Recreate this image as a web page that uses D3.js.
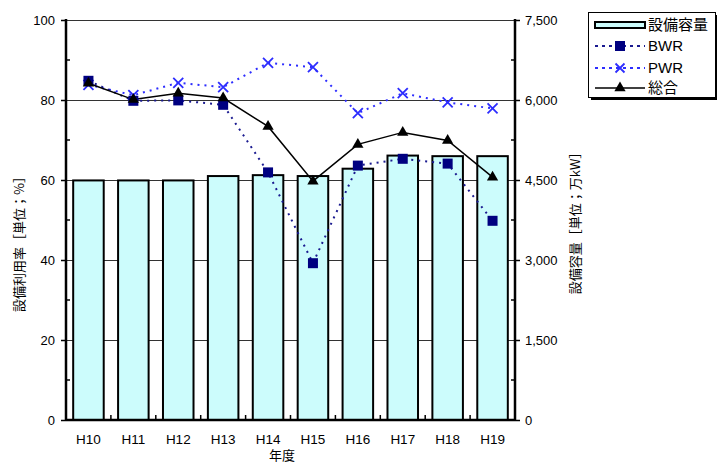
<!DOCTYPE html>
<html>
<head>
<meta charset="utf-8">
<script src="https://cdn.jsdelivr.net/npm/d3@7"></script>
<style>
  html, body { margin: 0; padding: 0; background: #fff; }
  svg { display: block; }
  text { font-family: "Liberation Sans", Arial, "Noto Sans CJK JP", sans-serif; fill: #000; }
  .jp { font-family: "Noto Sans CJK JP", "Liberation Sans", sans-serif; }
</style>
</head>
<body>
<svg id="chart" width="717" height="465"></svg>
<script>
// Fiscal years (Heisei)
const years = ["H10", "H11", "H12", "H13", "H14", "H15", "H16", "H17", "H18", "H19"];
// Installed capacity [万kW]
const capacity = [4492, 4492, 4492, 4574, 4591, 4574, 4712, 4958, 4947, 4947];
// Capacity factor [%]
const bwr = [84.8, 79.8, 79.9, 78.8, 61.9, 39.2, 63.6, 65.3, 64.1, 49.8];
const pwr = [83.8, 81.2, 84.3, 83.2, 89.3, 88.2, 76.7, 81.7, 79.4, 77.9];
const total = [84.2, 80.1, 81.7, 80.5, 73.4, 59.7, 68.9, 71.9, 69.9, 60.7];
// Axis ticks
const leftTicks = [0, 20, 40, 60, 80, 100];
const rightTicks = [0, 1500, 3000, 4500, 6000, 7500];

const svg = d3.select("#chart");
const L = 66, R = 515, T = 20, B = 420;

const x = d3.scaleBand().domain(years).range([L, R]).paddingInner(0.32).paddingOuter(0.16);
const cx = d => x(d) + x.bandwidth() / 2;
const yL = d3.scaleLinear().domain([0, 100]).range([B, T]);
const yR = d3.scaleLinear().domain([0, 7500]).range([B, T]);

// Horizontal grid lines
svg.append("g").selectAll("line").data(leftTicks.filter(v => v > 0)).join("line")
  .attr("x1", L).attr("x2", R)
  .attr("y1", d => yL(d) + 0.5).attr("y2", d => yL(d) + 0.5)
  .attr("stroke", "#333").attr("stroke-width", 1);

// Capacity bars
svg.append("g").selectAll("rect").data(years).join("rect")
  .attr("x", d => x(d))
  .attr("y", (d, i) => yR(capacity[i]))
  .attr("width", x.bandwidth())
  .attr("height", (d, i) => B - yR(capacity[i]))
  .attr("fill", "#ccfcfc")
  .attr("stroke", "#000").attr("stroke-width", 2);

// Left axis: major ticks outward, minor ticks inward
const gl = svg.append("g").attr("transform", `translate(${L},0)`);
gl.call(d3.axisLeft(yL).tickValues(leftTicks).tickSize(5).tickPadding(6))
  .call(g => g.select(".domain").remove());
gl.selectAll(".tick line").attr("stroke", "#000").attr("stroke-width", 1.5);
gl.selectAll(".tick text").attr("font-size", 13).style("font-family", "'Liberation Sans', Arial, sans-serif");
gl.append("g").selectAll("line").data(d3.range(10, 100, 20)).join("line")
  .attr("x1", 0).attr("x2", 4).attr("y1", d => yL(d)).attr("y2", d => yL(d))
  .attr("stroke", "#000").attr("stroke-width", 1.5);
gl.append("line").attr("x1", 0).attr("x2", 0).attr("y1", T - 1).attr("y2", B + 1)
  .attr("stroke", "#000").attr("stroke-width", 2.5);

// Right axis: major ticks outward, minor ticks inward
const gr = svg.append("g").attr("transform", `translate(${R},0)`);
gr.call(d3.axisRight(yR).tickValues(rightTicks).tickSize(5).tickPadding(5).tickFormat(d3.format(",")))
  .call(g => g.select(".domain").remove());
gr.selectAll(".tick line").attr("stroke", "#000").attr("stroke-width", 1.5);
gr.selectAll(".tick text").attr("font-size", 13).style("font-family", "'Liberation Sans', Arial, sans-serif");
gr.append("g").selectAll("line").data(d3.range(750, 7500, 1500)).join("line")
  .attr("x1", -4).attr("x2", 0).attr("y1", d => yR(d)).attr("y2", d => yR(d))
  .attr("stroke", "#000").attr("stroke-width", 1.5);
gr.append("line").attr("x1", 0).attr("x2", 0).attr("y1", T - 1).attr("y2", B + 1)
  .attr("stroke", "#000").attr("stroke-width", 2.5);

// Bottom axis: category labels, small inward separators
const gb = svg.append("g").attr("transform", `translate(0,${B})`);
gb.call(d3.axisBottom(x).tickSize(0).tickPadding(14))
  .call(g => g.select(".domain").remove());
gb.selectAll(".tick text").attr("font-size", 13.5).style("font-family", "'Liberation Sans', Arial, sans-serif");
gb.append("g").selectAll("line").data(years.slice(1)).join("line")
  .attr("x1", d => x(d) - x.step() * x.paddingInner() / 2)
  .attr("x2", d => x(d) - x.step() * x.paddingInner() / 2)
  .attr("y1", -5).attr("y2", 0)
  .attr("stroke", "#000").attr("stroke-width", 1.5);
gb.append("line").attr("x1", L).attr("x2", R).attr("y1", 0).attr("y2", 0)
  .attr("stroke", "#000").attr("stroke-width", 2.5);

// Series lines
const line = d3.line().x((d, i) => cx(years[i])).y(d => yL(d));

svg.append("path").datum(pwr).attr("d", line)
  .attr("fill", "none").attr("stroke", "#2d2dff").attr("stroke-width", 2)
  .attr("stroke-dasharray", "2,5");
svg.append("path").datum(bwr).attr("d", line)
  .attr("fill", "none").attr("stroke", "#1a1a90").attr("stroke-width", 2)
  .attr("stroke-dasharray", "2,5");
svg.append("path").datum(total).attr("d", line)
  .attr("fill", "none").attr("stroke", "#000").attr("stroke-width", 1.5);

// Markers
const crossPath = s => `M${-s},${-s}L${s},${s}M${-s},${s}L${s},${-s}`;
svg.append("g").selectAll("path").data(pwr).join("path")
  .attr("transform", (d, i) => `translate(${cx(years[i])},${yL(d)})`)
  .attr("d", crossPath(5)).attr("stroke", "#2d2dff").attr("stroke-width", 1.8).attr("fill", "none");
svg.append("g").selectAll("rect").data(bwr).join("rect")
  .attr("x", (d, i) => cx(years[i]) - 5).attr("y", d => yL(d) - 5)
  .attr("width", 10).attr("height", 10).attr("fill", "#000080");
const tri = d3.symbol().type(d3.symbolTriangle).size(55);
svg.append("g").selectAll("path").data(total).join("path")
  .attr("transform", (d, i) => `translate(${cx(years[i])},${yL(d)})`)
  .attr("d", tri).attr("fill", "#000");

// Axis titles
svg.append("text").attr("class", "jp")
  .attr("transform", "translate(24,241) rotate(-90)")
  .attr("text-anchor", "middle").attr("font-size", 13)
  .text("設備利用率［単位；%］");
svg.append("text").attr("class", "jp")
  .attr("transform", "translate(580,220) rotate(-90)")
  .attr("text-anchor", "middle").attr("font-size", 13)
  .text("設備容量［単位；万kW］");
svg.append("text").attr("class", "jp")
  .attr("x", 282).attr("y", 460).attr("text-anchor", "middle").attr("font-size", 13)
  .text("年度");

// Legend
const lg = svg.append("g");
lg.append("rect").attr("x", 591).attr("y", 15).attr("width", 127).attr("height", 85).attr("fill", "#000");
lg.append("rect").attr("x", 588.5).attr("y", 12.5).attr("width", 127).attr("height", 85)
  .attr("fill", "#fff").attr("stroke", "#000").attr("stroke-width", 1);
const entries = [
  { name: "設備容量", kind: "bar", y: 25 },
  { name: "BWR", kind: "bwr", y: 46 },
  { name: "PWR", kind: "pwr", y: 68 },
  { name: "総合", kind: "total", y: 88 }
];
const sx0 = 595, sx1 = 645, sm = 620;
entries.forEach(e => {
  if (e.kind === "bar") {
    lg.append("rect").attr("x", sx0).attr("y", e.y - 3).attr("width", sx1 - sx0).attr("height", 6)
      .attr("fill", "#ccfcfc").attr("stroke", "#000").attr("stroke-width", 2);
  } else if (e.kind === "bwr") {
    lg.append("line").attr("x1", sx0).attr("x2", sx1).attr("y1", e.y).attr("y2", e.y)
      .attr("stroke", "#1a1a90").attr("stroke-width", 2).attr("stroke-dasharray", "3,4");
    lg.append("rect").attr("x", sm - 5).attr("y", e.y - 5).attr("width", 10).attr("height", 10).attr("fill", "#000080");
  } else if (e.kind === "pwr") {
    lg.append("line").attr("x1", sx0).attr("x2", sx1).attr("y1", e.y).attr("y2", e.y)
      .attr("stroke", "#2d2dff").attr("stroke-width", 2).attr("stroke-dasharray", "3,4");
    lg.append("path").attr("transform", `translate(${sm},${e.y})`).attr("d", crossPath(4.5))
      .attr("stroke", "#2d2dff").attr("stroke-width", 1.8).attr("fill", "none");
  } else {
    lg.append("line").attr("x1", sx0).attr("x2", sx1).attr("y1", e.y).attr("y2", e.y)
      .attr("stroke", "#000").attr("stroke-width", 1.5);
    lg.append("path").attr("transform", `translate(${sm},${e.y})`).attr("d", tri).attr("fill", "#000");
  }
  lg.append("text").attr("class", e.kind === "bwr" || e.kind === "pwr" ? "" : "jp")
    .attr("x", 648).attr("y", e.y).attr("dy", "0.36em").attr("font-size", 15)
    .text(e.name);
});
</script>
</body>
</html>
